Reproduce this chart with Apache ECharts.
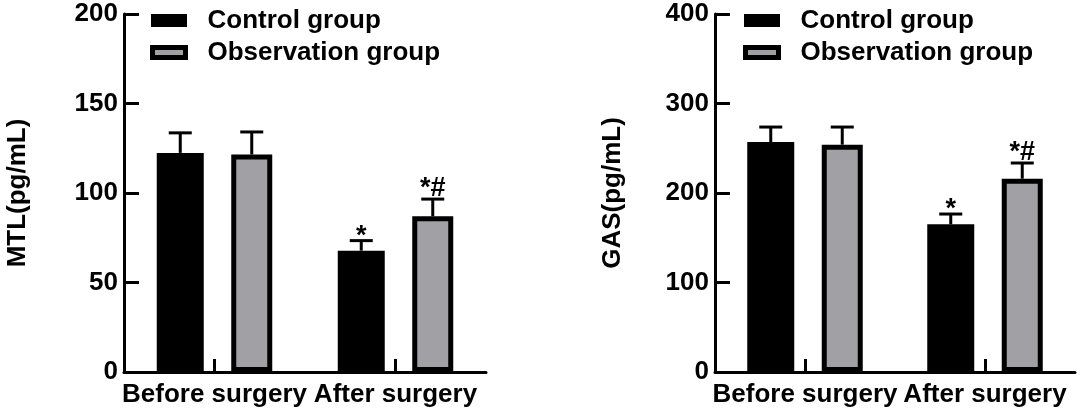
<!DOCTYPE html>
<html>
<head>
<meta charset="utf-8">
<title>MTL / GAS</title>
<script src="https://cdn.jsdelivr.net/npm/echarts@6/dist/echarts.min.js"></script>
<style>
    html, body { margin: 0; padding: 0; background: #fff; }
    #chart { width: 1084px; height: 417px; }
</style>
</head>
<body>
<div id="chart"></div>
<script>
var categories = ['Before surgery', 'After surgery'];
var groupNames = ['Control group', 'Observation group'];

// MTL (pg/mL)
var mtlControl = [122.4, 67.8];
var mtlControlSd = [11.2, 5.6];
var mtlObservation = [121.5, 87.0];
var mtlObservationSd = [12.6, 9.6];
var mtlTicks = { min: 0, max: 200, interval: 50 };

// GAS (pg/mL)
var gasControl = [257.0, 165.0];
var gasControlSd = [16.7, 11.5];
var gasObservation = [254.0, 216.0];
var gasObservationSd = [19.7, 17.5];
var gasTicks = { min: 0, max: 400, interval: 100 };

// significance marks above the error bars
var controlMarks = ['', '*'];
var observationMarks = ['', '*#'];

var FONT = 'Liberation Sans, Arial, sans-serif';
var GRAY = '#a1a1a5';
var CTRL_OFFSET = -34.25;   // bar centre relative to category centre (px)
var OBS_OFFSET = 37.25;

var chart = echarts.init(document.getElementById('chart'));

function textStyle(size) {
    return { color: '#000', fontFamily: FONT, fontWeight: 'bold', fontSize: size };
}

function xAxisFor(gridIndex) {
    return {
        type: 'category',
        gridIndex: gridIndex,
        data: categories,
        axisLine: { lineStyle: { color: '#000', width: 3 } },
        axisTick: {
            show: true, inside: true, length: 13, interval: 0, alignWithLabel: true,
            lineStyle: { color: '#000', width: 3 }
        },
        axisLabel: Object.assign({ interval: 0, margin: 10 }, textStyle(26)),
        splitLine: { show: false }
    };
}

function yAxisFor(gridIndex, ticks, name, gap) {
    return {
        type: 'value',
        gridIndex: gridIndex,
        min: ticks.min,
        max: ticks.max,
        interval: ticks.interval,
        name: name,
        nameLocation: 'middle',
        nameRotate: 90,
        nameGap: gap,
        nameTextStyle: textStyle(26),
        axisLine: { show: true, lineStyle: { color: '#000', width: 3 } },
        axisTick: { show: true, inside: true, length: 15, lineStyle: { color: '#000', width: 3 } },
        axisLabel: Object.assign({ margin: 6 }, textStyle(26)),
        splitLine: { show: false }
    };
}

function barSeries(name, values, axisIndex, isObs) {
    return {
        type: 'bar',
        name: name,
        xAxisIndex: axisIndex,
        yAxisIndex: axisIndex,
        data: values,
        barWidth: isObs ? 41 : 47,
        barGap: '58.5%',
        itemStyle: isObs
            ? { color: GRAY, borderColor: '#000', borderWidth: 5 }
            : { color: '#000' },
        emphasis: { disabled: true },
        z: 2
    };
}

function errorSeries(name, values, sds, marks, offset, axisIndex) {
    return {
        type: 'custom',
        name: name + ' SD',
        xAxisIndex: axisIndex,
        yAxisIndex: axisIndex,
        z: 5,
        silent: true,
        encode: { x: 0, y: [1, 2] },
        data: values.map(function (v, i) { return [i, v, v + sds[i]]; }),
        renderItem: function (params, api) {
            var base = api.coord([api.value(0), api.value(1)]);
            var top = api.coord([api.value(0), api.value(2)]);
            var x = base[0] + offset;
            var line = { stroke: '#000', lineWidth: 3 };
            var children = [
                { type: 'line', shape: { x1: x, y1: base[1], x2: x, y2: top[1] }, style: line },
                { type: 'line', shape: { x1: x - 11.5, y1: top[1], x2: x + 11.5, y2: top[1] }, style: line }
            ];
            var mark = marks[params.dataIndex];
            if (mark) {
                children.push({
                    type: 'text',
                    x: x,
                    y: top[1] + (mark === '*' ? 9 : 3),
                    style: {
                        text: mark,
                        fill: '#000',
                        font: 'bold 27px ' + FONT,
                        align: 'center',
                        verticalAlign: 'bottom'
                    }
                });
            }
            return { type: 'group', children: children };
        }
    };
}

function legendFor(left) {
    return {
        orient: 'vertical',
        left: left,
        top: 5.5,
        padding: 0,
        itemWidth: 33,
        itemHeight: 10,
        itemGap: 2,
        selectedMode: false,
        icon: 'rect',
        textStyle: Object.assign({ lineHeight: 30, padding: [0, 0, 0, 17] }, textStyle(26)),
        data: [
            { name: groupNames[0], itemStyle: { color: '#000', borderColor: '#000', borderWidth: 3 } },
            { name: groupNames[1], itemStyle: { color: GRAY, borderColor: '#000', borderWidth: 5 } }
        ]
    };
}

var option = {
    animation: false,
    backgroundColor: '#fff',
    legend: [legendFor(150), legendFor(743)],
    grid: [
        { left: 124, top: 14, width: 362, height: 358 },
        { left: 715, top: 14, width: 360, height: 358 }
    ],
    xAxis: [xAxisFor(0), xAxisFor(1)],
    yAxis: [
        yAxisFor(0, mtlTicks, 'MTL(pg/mL)', 93),
        yAxisFor(1, gasTicks, 'GAS(pg/mL)', 89)
    ],
    series: [
        barSeries(groupNames[0], mtlControl, 0, false),
        barSeries(groupNames[1], mtlObservation, 0, true),
        errorSeries(groupNames[0], mtlControl, mtlControlSd, controlMarks, CTRL_OFFSET, 0),
        errorSeries(groupNames[1], mtlObservation, mtlObservationSd, observationMarks, OBS_OFFSET, 0),
        barSeries(groupNames[0], gasControl, 1, false),
        barSeries(groupNames[1], gasObservation, 1, true),
        errorSeries(groupNames[0], gasControl, gasControlSd, controlMarks, CTRL_OFFSET, 1),
        errorSeries(groupNames[1], gasObservation, gasObservationSd, observationMarks, OBS_OFFSET, 1)
    ]
};

chart.setOption(option);
</script>
</body>
</html>
